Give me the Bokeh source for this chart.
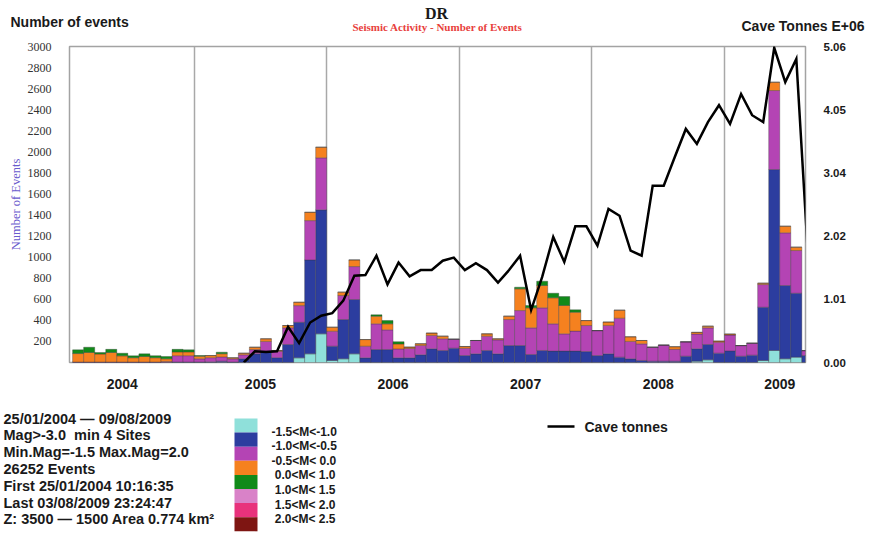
import pandas as pd
from bokeh.plotting import figure
from bokeh.models import (ColumnDataSource, Range1d, LinearAxis, FixedTicker,
                          Label, PrintfTickFormatter)
from bokeh.layouts import column
from bokeh.embed import file_html
from bokeh.resources import INLINE

# ---------------- data ----------------
months = pd.period_range("2004-02", "2009-08", freq="M")

# monthly number of events per magnitude class (Feb 2004 .. Aug 2009)
ev_m15_m10 = [0, 0, 0, 0, 0, 0, 0, 0, 0, 0, 0,
              0, 0, 0, 0, 0, 0, 0, 0, 0, 44, 82, 272,
              19, 35, 82, 0, 0, 0, 0, 0, 0, 0, 0, 0,
              0, 0, 0, 0, 0, 0, 0, 0, 0, 0, 0, 0,
              0, 0, 0, 0, 0, 0, 0, 0, 0, 13, 25, 0,
              0, 0, 0, 19, 114, 35, 51, 0]
ev_m10_m05 = [0, 0, 0, 0, 0, 0, 0, 0, 0, 5, 5,
              5, 6, 13, 5, 35, 82, 108, 46, 171, 338, 892, 1177,
              136, 373, 516, 44, 123, 123, 44, 44, 73, 130, 114, 136,
              66, 82, 114, 82, 161, 161, 76, 114, 108, 108, 108, 104,
              66, 82, 51, 35, 19, 13, 13, 13, 60, 117, 146, 89,
              110, 60, 70, 506, 1718, 696, 607, 66]
ev_m05_00 = [5, 5, 5, 5, 5, 5, 5, 5, 10, 60, 60,
             30, 40, 40, 30, 38, 41, 92, 60, 158, 158, 373, 494,
             142, 228, 313, 111, 244, 187, 85, 89, 89, 127, 111, 85,
             70, 127, 136, 133, 247, 332, 253, 405, 259, 164, 190, 247,
             237, 270, 370, 165, 158, 132, 152, 112, 136, 140, 158, 104,
             150, 101, 113, 215, 750, 500, 405, 47]
ev_00_10 = [80, 90, 75, 90, 58, 40, 52, 40, 25, 35, 35,
            25, 20, 30, 10, 15, 22, 25, 8, 22, 32, 79, 101,
            38, 32, 63, 63, 73, 57, 47, 13, 16, 22, 25, 0,
            16, 0, 22, 10, 32, 206, 190, 212, 247, 269, 180, 47,
            0, 32, 76, 44, 32, 0, 0, 25, 0, 16, 16, 10,
            10, 0, 0, 13, 79, 63, 32, 0]
ev_10_15 = [35, 50, 15, 30, 25, 18, 25, 20, 22, 25, 20,
            6, 0, 15, 0, 0, 0, 0, 0, 0, 0, 0, 0,
            0, 0, 0, 0, 13, 32, 22, 0, 0, 0, 0, 0,
            0, 0, 0, 0, 0, 16, 22, 41, 44, 85, 22, 0,
            0, 0, 0, 0, 0, 0, 0, 0, 0, 0, 0, 0,
            0, 0, 0, 0, 0, 0, 0, 0]

# cave tonnes (E+06), monthly from May 2005 .. Aug 2009
tonnes_months = pd.period_range("2005-05", "2009-08", freq="M")
cave_tonnes = [0.00, 0.18, 0.17, 0.18, 0.57, 0.31, 0.64, 0.75,
               0.79, 0.99, 1.39, 1.40, 1.71, 1.25, 1.60, 1.38, 1.48, 1.48, 1.63, 1.68,
               1.48, 1.59, 1.48, 1.28, 1.48, 1.71, 0.84, 1.37, 2.01, 1.61, 2.18, 2.18,
               1.87, 2.46, 2.35, 1.79, 1.71, 2.83, 2.83, 3.29, 3.74, 3.50, 3.85, 4.12,
               3.82, 4.30, 3.96, 3.85, 5.04, 4.49, 4.86, 1.87]

years = ["2004", "2005", "2006", "2007", "2008", "2009"]
y_ticks = [200, 400, 600, 800, 1000, 1200, 1400, 1600, 1800, 2000,
           2200, 2400, 2600, 2800, 3000]
tonne_ticks = [0.00, 1.01, 2.02, 3.04, 4.05, 5.06]

NB = "\u00a0"
mag_labels = ["-1.5<M<-1.0", "-1.0<M<-0.5", "-0.5<M<" + NB + "0.0", NB + "0.0<M<" + NB + "1.0",
              NB + "1.0<M<" + NB + "1.5", NB + "1.5<M<" + NB + "2.0", NB + "2.0<M<" + NB + "2.5"]
mag_colors = ["#8fe0da", "#2c3d9f", "#b444b4", "#f5811f", "#118a19",
              "#d982c8", "#e8327c", "#7e1512"]
info_lines = ["25/01/2004 \u2014 09/08/2009",
              "Mag>-3.0 " + NB + "min 4 Sites",
              "Min.Mag=-1.5 Max.Mag=2.0",
              "26252 Events",
              "First 25/01/2004 10:16:35",
              "Last 03/08/2009 23:24:47",
              "Z: 3500 \u2014 1500 Area 0.774 km\u00b2"]

# ---------------- helpers ----------------
SANS = "Liberation Sans"
SERIF = "Liberation Serif"
FRAME_L, FRAME_R = 69, 805


def mx(periods):
    return [(q.year - 2004) * 12 + (q.month - 1) + 0.5 for q in periods]


def strip(h, y0, y1):
    # frame covers the whole strip; data units == window pixels
    f = figure(width=877, height=h, x_range=Range1d(0, 877), y_range=Range1d(y1, y0),
               output_backend="svg", toolbar_location=None,
               x_axis_location=None, y_axis_location=None,
               min_border_left=0, min_border_right=0,
               min_border_top=0, min_border_bottom=0, frame_align=False)
    f.grid.grid_line_color = None
    f.outline_line_color = None
    f.background_fill_color = "white"
    f.border_fill_color = "white"
    return f


def lab(f, x, y, text, size, color="#1a1a1a", font=SANS, style="bold", align="left"):
    f.add_layout(Label(x=x, y=y, text=text, text_font=font, text_font_size=size,
                       text_font_style=style, text_color=color, text_align=align,
                       text_baseline="middle"))

# ---------------- main chart ----------------
stackers = ["c1", "c2", "c3", "c4", "c5"]
src = ColumnDataSource(dict(x=mx(months), c1=ev_m15_m10, c2=ev_m10_m05, c3=ev_m05_00,
                            c4=ev_00_10, c5=ev_10_15))

p = figure(width=877, height=355, output_backend="svg", toolbar_location=None,
           x_range=Range1d(0.72, 67.33), y_range=Range1d(0, 3000),
           min_border_left=FRAME_L, min_border_right=877 - FRAME_R,
           min_border_top=6, min_border_bottom=33, frame_align=False)
p.background_fill_color = "white"
p.border_fill_color = "white"
p.outline_line_color = "#a3a3a3"
p.outline_line_width = 1.5

p.vbar_stack(stackers, x="x", width=1.0, source=src, fill_color=mag_colors[:5],
             line_color="#3a3a3a", line_width=0.5, line_alpha=0.7)

p.extra_y_ranges = {"tonnes": Range1d(0, 5.06)}
p.line(mx(tonnes_months), cave_tonnes, y_range_name="tonnes",
       line_color="black", line_width=2.5, line_join="miter")

# x axis: year labels in the middle of each year, grid lines at year starts
year_pos = [5.5, 18, 30, 42, 54, 65]
p.xaxis.ticker = FixedTicker(ticks=year_pos)
p.xaxis.major_label_overrides = {t: y for t, y in zip(year_pos, years)}
p.xaxis.major_tick_line_color = None
p.xaxis.minor_tick_line_color = None
p.xaxis.axis_line_color = None
p.xaxis.major_label_text_font = SANS
p.xaxis.major_label_text_font_style = "bold"
p.xaxis.major_label_text_font_size = "14px"
p.xaxis.major_label_text_color = "#1a1a1a"
p.xaxis.major_label_standoff = 10

p.xgrid.ticker = FixedTicker(ticks=[12, 24, 36, 48, 60])
p.xgrid.grid_line_color = "#a8a8a8"
p.xgrid.grid_line_width = 1.5
p.ygrid.grid_line_color = None

p.yaxis.ticker = FixedTicker(ticks=y_ticks)
p.yaxis.major_tick_line_color = None
p.yaxis.minor_tick_line_color = None
p.yaxis.axis_line_color = None
p.yaxis.major_label_text_font = SERIF
p.yaxis.major_label_text_font_size = "12px"
p.yaxis.major_label_text_color = "#333333"
p.yaxis.major_label_standoff = 12
p.yaxis.axis_label = "Number of Events"
p.yaxis.axis_label_text_font = SERIF
p.yaxis.axis_label_text_font_style = "normal"
p.yaxis.axis_label_text_font_size = "12.5px"
p.yaxis.axis_label_text_color = "#6a5acd"
p.yaxis.axis_label_standoff = 2

ax_r = LinearAxis(y_range_name="tonnes", ticker=FixedTicker(ticks=tonne_ticks),
                  formatter=PrintfTickFormatter(format="%.2f"))
ax_r.major_tick_line_color = None
ax_r.minor_tick_line_color = None
ax_r.axis_line_color = None
ax_r.major_label_text_font = SANS
ax_r.major_label_text_font_style = "bold"
ax_r.major_label_text_font_size = "11.5px"
ax_r.major_label_text_color = "#1a1a1a"
ax_r.major_label_standoff = 12
p.add_layout(ax_r, "right")

# ---------------- top strip ----------------
top = strip(40, 0, 40)
lab(top, 10, 21, "Number of events", "14px")
lab(top, 436, 13, "DR", "16px", font=SERIF, align="center")
lab(top, 437, 26, "Seismic Activity - Number of Events", "11px", color="#e8403c",
    font=SERIF, align="center")
lab(top, 741, 25, "Cave Tonnes E+06", "14px")

# ---------------- bottom strip (info + legends) ----------------
bot = strip(139, 395, 534)
for i, t in enumerate(info_lines):
    lab(bot, 3, 418 + 16.8 * i, t, "14.5px")
sw_top = [418 + 14.1 * i for i in range(len(mag_colors))]
bot.quad(left=234, right=257, top=sw_top, bottom=[t + 14.1 for t in sw_top],
         fill_color=mag_colors, line_color=None)
for i, t in enumerate(mag_labels):
    lab(bot, 271, 431 + 14.6 * i, t, "12px")
bot.line([547, 574], [426, 426], line_color="black", line_width=2.5)
lab(bot, 584, 426, "Cave tonnes", "14px")

layout = column(top, p, bot, spacing=0)
open("out.html", "w").write(file_html(layout, INLINE))
